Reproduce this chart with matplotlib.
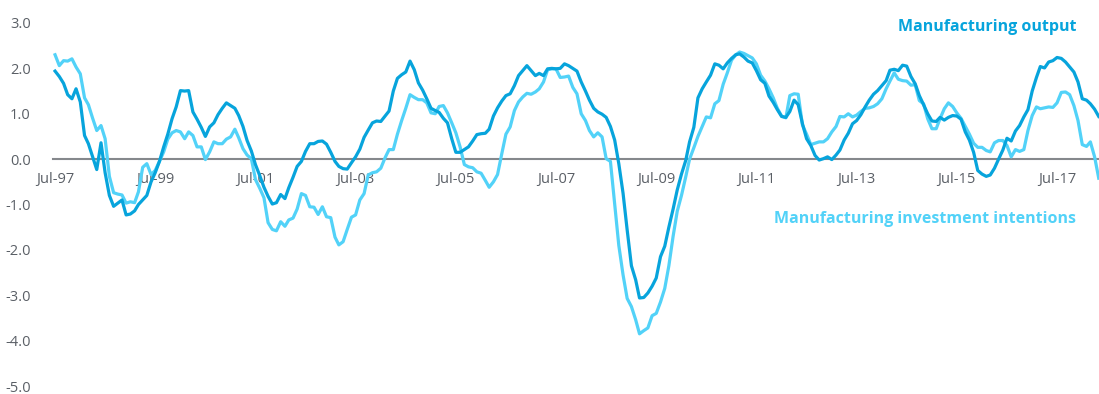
import pandas as pd
import matplotlib
matplotlib.use('Agg')
import matplotlib.pyplot as plt
import matplotlib.dates as mdates

FIGSIZE = (10.99, 3.94)
DARK = '#07a4dc'
LIGHT = '#52d2f8'
GREY = '#5a5f66'
ZERO = '#85888c'

START = '1997-07-01'

OUTPUT = [
    1.94, 1.82, 1.67, 1.42, 1.33, 1.55, 1.26, 0.52, 0.34, 0.05, -0.23, 0.36,
    -0.30, -0.80, -1.04, -0.97, -0.90, -1.23, -1.21, -1.14, -1.00, -0.90, -0.80, -0.50,
    -0.30, -0.05, 0.27, 0.55, 0.89, 1.15, 1.51, 1.50, 1.51, 1.04, 0.88, 0.70,
    0.50, 0.71, 0.80, 0.98, 1.12, 1.24, 1.18, 1.12, 0.96, 0.72, 0.41, 0.18,
    -0.12, -0.36, -0.62, -0.82, -0.99, -0.96, -0.78, -0.87, -0.63, -0.40, -0.16, -0.05,
    0.17, 0.34, 0.34, 0.39, 0.40, 0.33, 0.15, -0.05, -0.16, -0.21, -0.22, -0.08,
    0.05, 0.22, 0.48, 0.64, 0.80, 0.84, 0.83, 0.95, 1.06, 1.50, 1.78, 1.86,
    1.92, 2.16, 1.97, 1.68, 1.52, 1.33, 1.12, 1.07, 1.03, 0.90, 0.80, 0.45,
    0.15, 0.15, 0.21, 0.27, 0.40, 0.54, 0.56, 0.57, 0.66, 0.95, 1.13, 1.28,
    1.40, 1.44, 1.62, 1.84, 1.95, 2.06, 1.95, 1.84, 1.89, 1.84, 1.99, 2.00,
    1.99, 2.00, 2.10, 2.06, 2.00, 1.94, 1.70, 1.50, 1.30, 1.12, 1.04, 0.99,
    0.92, 0.72, 0.42, -0.10, -0.75, -1.56, -2.35, -2.66, -3.06, -3.05, -2.95, -2.80,
    -2.62, -2.15, -1.92, -1.50, -1.10, -0.68, -0.33, -0.03, 0.38, 0.70, 1.35, 1.55,
    1.70, 1.85, 2.10, 2.07, 1.99, 2.12, 2.22, 2.30, 2.32, 2.25, 2.16, 2.12,
    1.95, 1.75, 1.67, 1.39, 1.25, 1.09, 0.94, 0.92, 1.05, 1.30, 1.20, 0.78,
    0.45, 0.30, 0.08, -0.02, 0.01, 0.05, -0.01, 0.09, 0.20, 0.42, 0.57, 0.78,
    0.85, 0.98, 1.15, 1.30, 1.43, 1.51, 1.62, 1.73, 1.96, 1.98, 1.95, 2.07,
    2.05, 1.82, 1.66, 1.40, 1.20, 1.00, 0.84, 0.83, 0.92, 0.86, 0.92, 0.96,
    0.95, 0.88, 0.60, 0.42, 0.15, -0.25, -0.33, -0.38, -0.35, -0.20, 0.00, 0.20,
    0.46, 0.40, 0.62, 0.74, 0.93, 1.09, 1.50, 1.80, 2.04, 2.01, 2.14, 2.17,
    2.24, 2.22, 2.14, 2.03, 1.92, 1.70, 1.33, 1.30, 1.22, 1.10, 0.94,
]

INVESTMENT = [
    2.30, 2.06, 2.17, 2.16, 2.21, 2.03, 1.88, 1.35, 1.20, 0.90, 0.63, 0.74,
    0.45, -0.38, -0.74, -0.77, -0.79, -0.97, -0.94, -0.96, -0.72, -0.18, -0.10, -0.34,
    -0.25, -0.05, 0.16, 0.44, 0.58, 0.63, 0.60, 0.45, 0.60, 0.52, 0.27, 0.27,
    -0.01, 0.16, 0.38, 0.34, 0.34, 0.44, 0.49, 0.66, 0.47, 0.23, 0.09, 0.01,
    -0.45, -0.64, -0.85, -1.40, -1.55, -1.58, -1.38, -1.48, -1.34, -1.30, -1.10, -0.76,
    -0.80, -1.05, -1.06, -1.22, -1.05, -1.27, -1.29, -1.72, -1.89, -1.82, -1.55, -1.28,
    -1.23, -0.90, -0.76, -0.35, -0.30, -0.28, -0.20, 0.03, 0.21, 0.21, 0.55, 0.85,
    1.12, 1.42, 1.36, 1.31, 1.31, 1.24, 1.02, 1.00, 1.16, 1.18, 1.02, 0.80,
    0.58, 0.27, -0.12, -0.17, -0.19, -0.28, -0.31, -0.47, -0.62, -0.50, -0.34, 0.12,
    0.55, 0.71, 1.07, 1.26, 1.37, 1.45, 1.43, 1.48, 1.55, 1.70, 1.97, 1.99,
    1.99, 1.80, 1.81, 1.83, 1.58, 1.44, 1.00, 0.85, 0.63, 0.49, 0.58, 0.49,
    0.01, -0.05, -1.00, -1.90, -2.55, -3.07, -3.25, -3.54, -3.85, -3.78, -3.72, -3.45,
    -3.40, -3.15, -2.85, -2.35, -1.70, -1.15, -0.80, -0.39, 0.00, 0.25, 0.50, 0.72,
    0.93, 0.91, 1.22, 1.29, 1.65, 1.90, 2.18, 2.30, 2.36, 2.33, 2.28, 2.23,
    2.10, 1.85, 1.72, 1.55, 1.35, 1.12, 0.95, 0.91, 1.40, 1.44, 1.43, 0.75,
    0.55, 0.32, 0.35, 0.38, 0.38, 0.45, 0.60, 0.72, 0.94, 0.93, 1.00, 0.93,
    0.97, 1.05, 1.12, 1.13, 1.16, 1.22, 1.33, 1.55, 1.72, 1.90, 1.76, 1.73,
    1.72, 1.63, 1.64, 1.29, 1.22, 0.89, 0.67, 0.67, 0.89, 1.11, 1.24, 1.16,
    1.02, 0.90, 0.72, 0.55, 0.35, 0.26, 0.26, 0.19, 0.16, 0.36, 0.41, 0.41,
    0.30, 0.05, 0.21, 0.17, 0.21, 0.63, 0.96, 1.15, 1.11, 1.13, 1.15, 1.14,
    1.24, 1.47, 1.48, 1.42, 1.18, 0.85, 0.32, 0.28, 0.38, 0.05, -0.42,
]

Y_TICKS = [3.0, 2.0, 1.0, 0.0, -1.0, -2.0, -3.0, -4.0, -5.0]
X_TICK_YEARS = list(range(1997, 2018, 2))

plt.rcParams['font.family'] = ['Open Sans', 'DejaVu Sans']

dates = pd.date_range(START, periods=len(OUTPUT), freq='MS')

fig = plt.figure(figsize=FIGSIZE, dpi=100)
# -5 sits at 386 px from the top, 3 at 23 px
ax = fig.add_axes([53 / 1099, 8 / 394, 1 - 53 / 1099, (386 - 23) / 394])

ax.plot(dates, INVESTMENT, color=LIGHT, lw=2.3, solid_joinstyle='round')
ax.plot(dates, OUTPUT, color=DARK, lw=2.3, solid_joinstyle='round')

ax.set_ylim(-5, 3)
ax.set_xlim(dates[0] - pd.Timedelta(days=15), dates[-1] + pd.Timedelta(days=2))
ax.set_yticks(Y_TICKS)
ax.set_yticklabels(['{:.1f}'.format(v) for v in Y_TICKS])

ticks = [pd.Timestamp('{}-07-01'.format(y)) for y in X_TICK_YEARS]
ax.set_xticks(ticks)
ax.xaxis.set_major_formatter(mdates.DateFormatter('%b-%y'))

for side in ['top', 'right', 'left']:
    ax.spines[side].set_visible(False)
ax.spines['bottom'].set_position(('data', 0))
ax.spines['bottom'].set_color(ZERO)
ax.spines['bottom'].set_linewidth(1.5)
ax.spines['bottom'].set_zorder(0)

ax.tick_params(axis='both', length=0, labelsize=10.5, labelcolor=GREY)
ax.tick_params(axis='x', pad=9)
ax.tick_params(axis='y', pad=16)
ax.patch.set_alpha(0)

fig.text(1076 / 1099, 1 - 27 / 394, 'Manufacturing output', color=DARK,
         fontsize=11.5, fontweight='bold', ha='right', va='center')
fig.text(1076 / 1099, 1 - 219 / 394, 'Manufacturing investment intentions',
         color=LIGHT, fontsize=11.5, fontweight='bold', ha='right', va='center')

plt.savefig('out.png', dpi=100)
plt.close()
